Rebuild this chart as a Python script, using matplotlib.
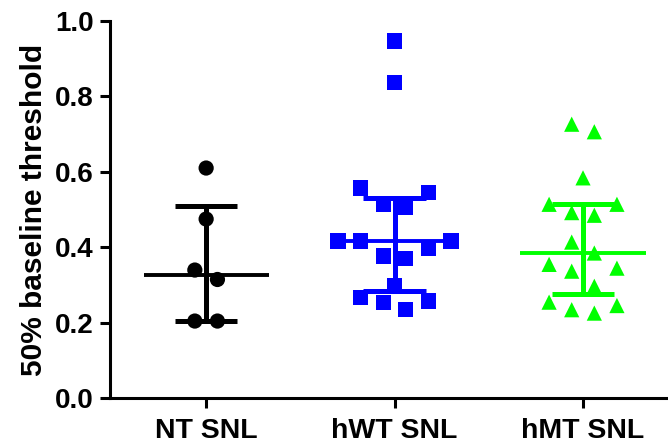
import numpy as np
import matplotlib
matplotlib.use("Agg")
import matplotlib.pyplot as plt

plt.rcParams['font.family'] = ['Liberation Sans', 'DejaVu Sans']
plt.rcParams['font.weight'] = 'bold'

groups = ['NT SNL', 'hWT SNL', 'hMT SNL']
nt_snl = [0.61, 0.475, 0.34, 0.315, 0.205, 0.205]
hwt_snl = [0.946, 0.836, 0.557, 0.546, 0.514, 0.505, 0.417, 0.417, 0.417,
           0.397, 0.377, 0.370, 0.300, 0.267, 0.258, 0.255, 0.236]
hmt_snl = [0.726, 0.706, 0.584, 0.514, 0.514, 0.492, 0.485, 0.414, 0.385,
           0.355, 0.345, 0.337, 0.297, 0.255, 0.246, 0.235, 0.226]
yticks = [0.0, 0.2, 0.4, 0.6, 0.8, 1.0]

colors = ['black', '#0000ff', '#00ff00']
markers = ['o', 's', '^']


def spread(values, bin_width=0.06, step=0.12):
    # simple column scatter: points close in y share a row, spread sideways
    vals = np.asarray(values, dtype=float)
    order = np.argsort(vals, kind='stable')
    offsets = np.zeros(len(vals))
    rows = []
    for idx in order:
        if rows and vals[idx] - vals[rows[-1][0]] <= bin_width:
            rows[-1].append(idx)
        else:
            rows.append([idx])
    for row in rows:
        n = len(row)
        if n % 2 == 0:
            slots = []
            for k in range(n // 2):
                slots += [k + 0.5, -(k + 0.5)]
        else:
            slots = [0.0]
            for k in range(1, n // 2 + 1):
                slots += [k, -k]
        for idx, s in zip(row, slots):
            offsets[idx] = s * step
    return offsets


fig = plt.figure(figsize=(6.68, 4.45), dpi=100)
ax = fig.add_axes([0.165, 0.1045, 0.835, 0.849])

for i, data in enumerate([nt_snl, hwt_snl, hmt_snl]):
    q1, med, q3 = np.percentile(data, [25, 50, 75], method='weibull')
    c = colors[i]
    ax.plot([i, i], [q1, q3], color=c, lw=3.6, solid_capstyle='butt', zorder=2)
    ax.plot([i - 0.165, i + 0.165], [q1, q1], color=c, lw=3.6, solid_capstyle='butt', zorder=2)
    ax.plot([i - 0.165, i + 0.165], [q3, q3], color=c, lw=3.6, solid_capstyle='butt', zorder=2)
    ax.plot([i - 0.332, i + 0.332], [med, med], color=c, lw=2.8, solid_capstyle='butt', zorder=2)
    x = i + spread(data)
    ax.scatter(x, data, s=120, marker=markers[i], color=c, edgecolors='none', zorder=3)

ax.set_xlim(-0.509, 2.451)
ax.set_ylim(0, 1.0)
ax.set_xticks(range(len(groups)))
ax.set_xticklabels(groups, fontsize=20.5, fontweight='bold')
ax.set_yticks(yticks)
ax.set_yticklabels([f'{t:.1f}' for t in yticks], fontsize=20, fontweight='bold')
ax.set_ylabel('50% baseline threshold', fontsize=21.5, fontweight='bold', labelpad=5)

for side in ['top', 'right']:
    ax.spines[side].set_visible(False)
for side in ['left', 'bottom']:
    ax.spines[side].set_linewidth(2.2)
ax.tick_params(axis='both', width=2.2, length=7)
ax.tick_params(axis='y', pad=5)
ax.tick_params(axis='x', pad=7)

fig.savefig('out.png', dpi=100)
